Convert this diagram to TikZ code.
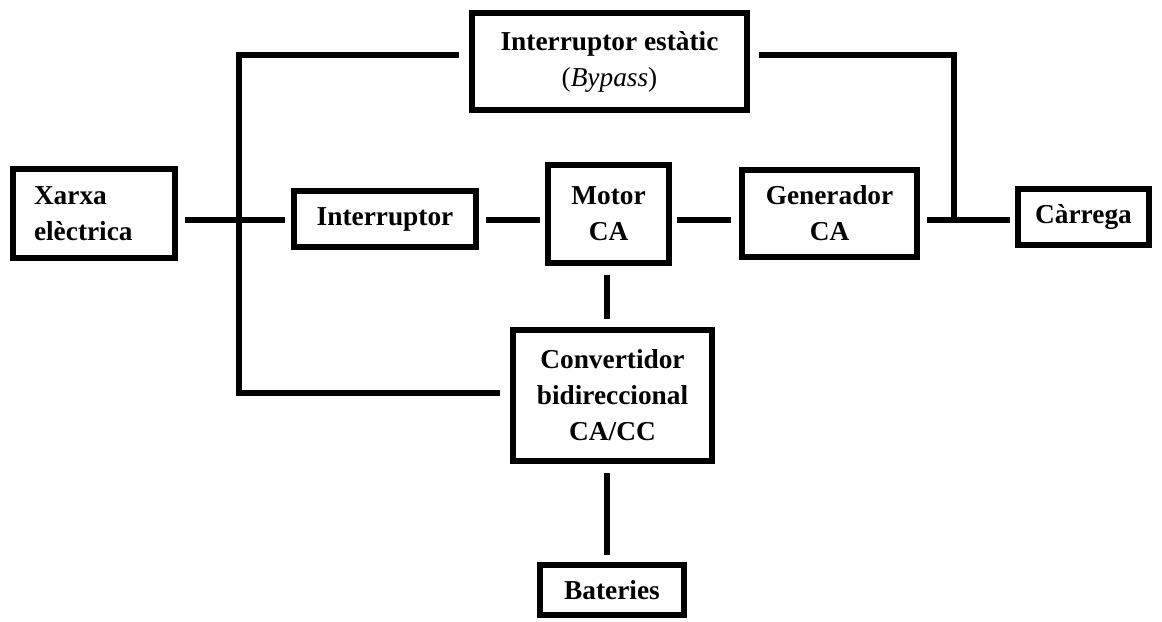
\documentclass[tikz,border=0pt]{standalone}
\usepackage{fontspec}
\setmainfont{Liberation Serif}
\begin{document}
\begin{tikzpicture}[x=0.75pt,y=-0.75pt,
  blk/.style={draw=black, line width=4.8pt, fill=white, inner sep=0pt,
    font=\fontsize{20.5}{27}\selectfont\bfseries, align=center},
  wire/.style={draw=black, line width=4.1pt},
]
\useasboundingbox (0,0) rectangle (1162,621);
% boxes
\node[blk, minimum width=121.5pt, minimum height=66.75pt, align=left, text width=90pt] (xarxa) at (94,213.5) {Xarxa\\elèctrica};
\node[blk, minimum width=136.5pt, minimum height=42pt] (int) at (385,219) {Interruptor};
\node[blk, minimum width=206.25pt, minimum height=72.75pt] (byp) at (609.5,61.5) {Interruptor estàtic\\{\mdseries(\textit{Bypass})}};
\node[blk, minimum width=90.75pt, minimum height=73.5pt] (motor) at (608.5,214) {Motor\\CA};
\node[blk, minimum width=131.25pt, minimum height=65.25pt] (gen) at (829.5,213.5) {Generador\\CA};
\node[blk, minimum width=98.25pt, minimum height=42pt] (carr) at (1083.5,217) {Càrrega};
\node[blk, minimum width=149.25pt, minimum height=98.25pt] (conv) at (612.5,395.5) {Convertidor\\bidireccional\\CA/CC};
\node[blk, minimum width=108pt, minimum height=37.5pt] (bat) at (612,590) {Bateries};
% helper coordinates
\coordinate (row) at (0,220);
\coordinate (bt) at (239,55);
\coordinate (bb) at (239,393);
\coordinate (tr) at (954,55);
\coordinate (tj) at (954,220);
\coordinate (vx) at (607,0);
% connectors
\draw[wire, shorten <=5.25pt, shorten >=4.5pt] (xarxa.east |- row) -- (int.west |- row);
\draw[wire, shorten <=7.5pt, shorten >=7.5pt] (byp.west |- bt) -- (bt) -- (bb) -- (conv.west |- bb);
\draw[wire, shorten <=5.25pt, shorten >=3.75pt] (int.east |- row) -- (motor.west |- row);
\draw[wire, shorten <=3.75pt, shorten >=6pt] (motor.east |- row) -- (gen.west |- row);
\draw[wire, shorten <=5.25pt, shorten >=3.75pt] (gen.east |- row) -- (carr.west |- row);
\draw[wire, shorten <=6.75pt] (byp.east |- bt) -- (tr) -- (tj);
\draw[wire, shorten <=6.75pt, shorten >=6pt] (vx |- motor.south) -- (vx |- conv.north);
\draw[wire, shorten <=6.75pt, shorten >=5.25pt] (vx |- conv.south) -- (vx |- bat.north);
\end{tikzpicture}
\end{document}
